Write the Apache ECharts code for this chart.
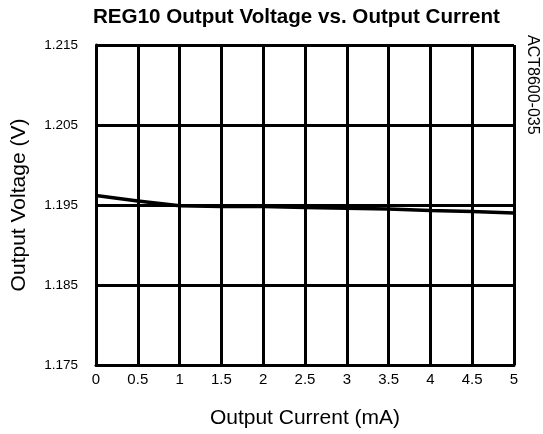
<!DOCTYPE html>
<html>
<head>
<meta charset="utf-8">
<script src="https://cdn.jsdelivr.net/npm/echarts@6/dist/echarts.min.js"></script>
<style>
  html, body { margin: 0; padding: 0; background: #fff; }
  #chart { width: 543px; height: 434px; }
</style>
</head>
<body>
<div id="chart"></div>
<script>
// REG10 output voltage (V) against load current (mA)
const currentMA = [0, 0.5, 1, 1.5, 2, 2.5, 3, 3.5, 4, 4.5, 5];
const voltageV = [1.1962, 1.1955, 1.1949, 1.1948, 1.1948, 1.1947, 1.1946, 1.1945, 1.1943, 1.1942, 1.1940];
const voltageTicks = [1.175, 1.185, 1.195, 1.205, 1.215];

const FONT = '"Liberation Sans", Arial, sans-serif';
const chart = echarts.init(document.getElementById('chart'), null, { renderer: 'canvas' });

chart.setOption({
  backgroundColor: '#ffffff',
  animation: false,
  title: {
    text: 'REG10 Output Voltage vs. Output Current',
    left: 93,
    top: 7,
    padding: 0,
    textStyle: { fontFamily: FONT, fontSize: 20.6, fontWeight: 'bold', color: '#000' }
  },
  graphic: [{
    type: 'text',
    x: 524,
    y: 35,
    rotation: -Math.PI / 2,
    style: {
      text: 'ACT8600-035',
      fontFamily: FONT,
      fontSize: 16,
      fill: '#000',
      textAlign: 'left',
      textVerticalAlign: 'bottom'
    }
  }],
  grid: { left: 96, right: 29, top: 45, bottom: 68, containLabel: false },
  xAxis: {
    type: 'value',
    min: 0,
    max: 5,
    interval: 0.5,
    name: 'Output Current (mA)',
    nameLocation: 'middle',
    nameGap: 43,
    nameTextStyle: { fontFamily: FONT, fontSize: 21, color: '#000' },
    axisLine: { show: true, lineStyle: { color: '#000', width: 3 } },
    axisTick: { show: false },
    axisLabel: { fontFamily: FONT, fontSize: 15, color: '#000', margin: 7 },
    splitLine: { show: true, lineStyle: { color: '#000', width: 3 } }
  },
  yAxis: {
    type: 'value',
    min: voltageTicks[0],
    max: voltageTicks[voltageTicks.length - 1],
    name: 'Output Voltage (V)',
    nameLocation: 'middle',
    nameGap: 66,
    nameTextStyle: { fontFamily: FONT, fontSize: 21, color: '#000' },
    axisLine: { show: true, lineStyle: { color: '#000', width: 3 } },
    axisTick: { show: false, customValues: voltageTicks },
    axisLabel: {
      fontFamily: FONT, fontSize: 13.5, color: '#000', margin: 18,
      customValues: voltageTicks,
      formatter: v => v.toFixed(3)
    },
    splitLine: { show: true, lineStyle: { color: '#000', width: 3 } }
  },
  series: [{
    type: 'line',
    data: currentMA.map((c, i) => [c, voltageV[i]]),
    showSymbol: false,
    smooth: false,
    lineStyle: { color: '#000', width: 3.5 },
    z: 3
  }]
});
</script>
</body>
</html>
